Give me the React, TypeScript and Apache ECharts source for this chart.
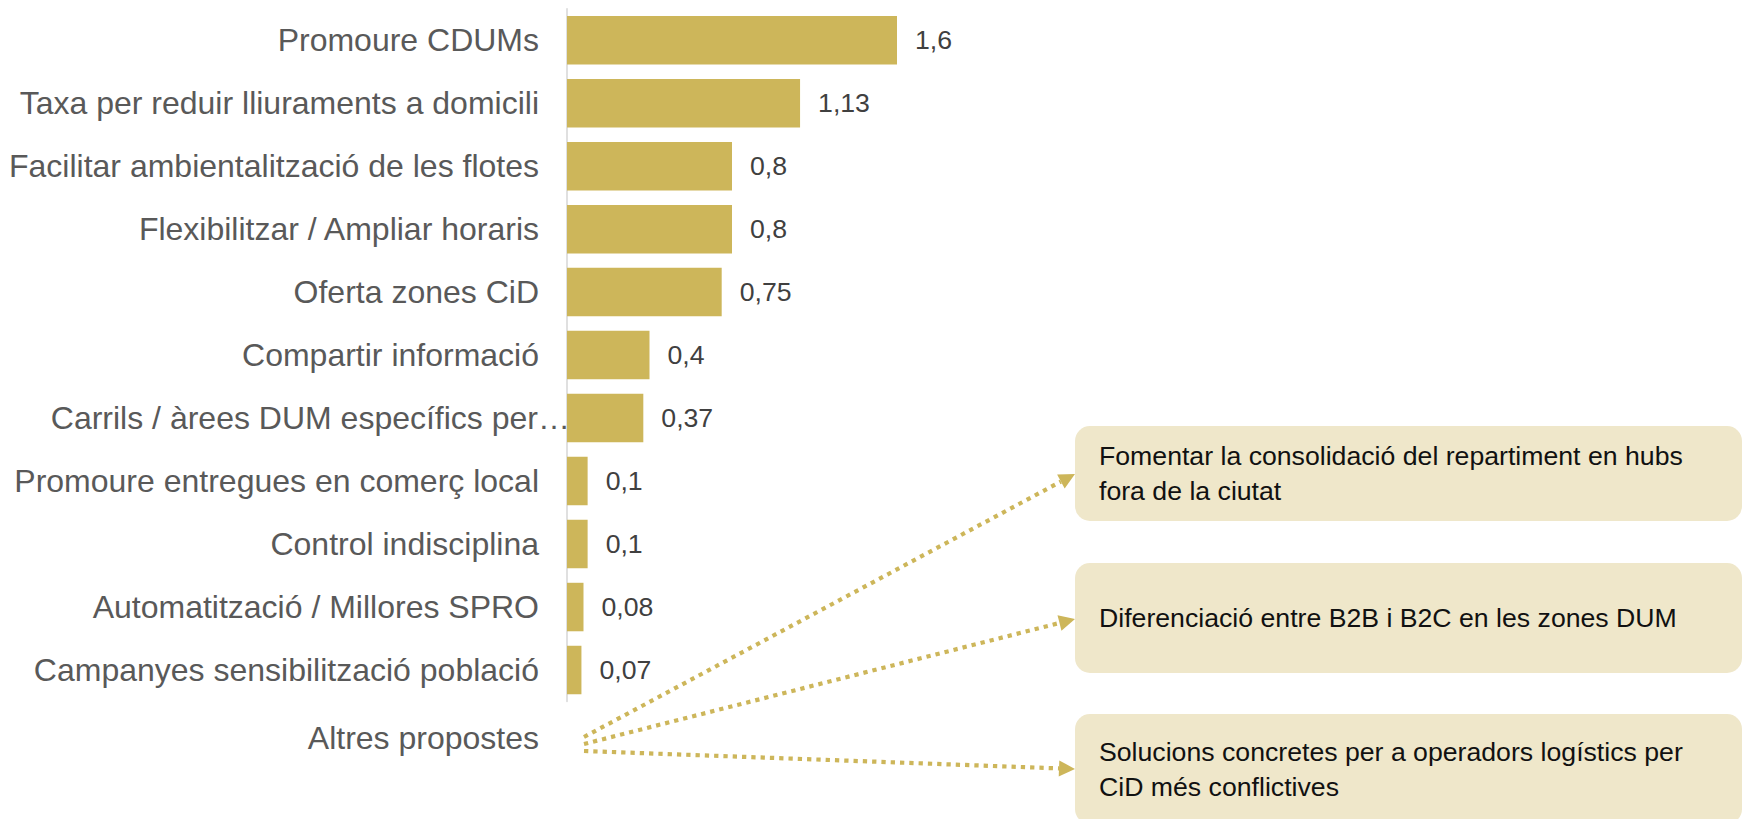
import React, { useEffect, useRef } from "react";
import * as echarts from "echarts";

const categories = [
  "Promoure CDUMs",
  "Taxa per reduir lliuraments a domicili",
  "Facilitar ambientalització de les flotes",
  "Flexibilitzar / Ampliar horaris",
  "Oferta zones CiD",
  "Compartir informació",
  "Carrils / àrees DUM específics per…",
  "Promoure entregues en comerç local",
  "Control indisciplina",
  "Automatització / Millores SPRO",
  "Campanyes sensibilització població",
];
const values = [1.6, 1.13, 0.8, 0.8, 0.75, 0.4, 0.37, 0.1, 0.1, 0.08, 0.07];
const overflowingLabel = 6;

const otherLabel = "Altres propostes";
const otherProposals = [
  "Fomentar la consolidació del repartiment en hubs\nfora de la ciutat",
  "Diferenciació entre B2B i B2C en les zones DUM",
  "Solucions concretes per a operadors logístics per\nCiD més conflictives",
];

const FONT = '"Liberation Sans", Arial, sans-serif';
const GOLD = "#CDB65A";

export default function App() {
  const ref = useRef<HTMLDivElement>(null);
  useEffect(() => {
    if (!ref.current) return;
    const chart = echarts.init(ref.current, null, { renderer: "svg" });

    // annotation layout
    const boxes = [
      { y: 426, h: 95, tipY: 474, startY: 737 },
      { y: 563, h: 110, tipY: 619, startY: 744 },
      { y: 714, h: 110, tipY: 769, startY: 751 },
    ];
    const boxX = 1075;
    const boxW = 667;
    const startX = 584;
    const graphics: any[] = [];
    boxes.forEach((b, i) => {
      graphics.push({
        type: "rect",
        shape: { x: boxX, y: b.y, width: boxW, height: b.h, r: 15 },
        style: { fill: "#EFE7CA" },
        z: 10,
      });
      graphics.push({
        type: "text",
        x: 1099,
        y: b.y + b.h / 2,
        style: {
          text: otherProposals[i],
          font: `26.67px ${FONT}`,
          fill: "#111111",
          textAlign: "left",
          textVerticalAlign: "middle",
          lineHeight: 35,
        },
        z: 11,
      });
      const tx = boxX;
      const ty = b.tipY;
      const dx = tx - startX;
      const dy = ty - b.startY;
      const len = Math.sqrt(dx * dx + dy * dy);
      const ux = dx / len;
      const uy = dy / len;
      const L = 16;
      const W = 8;
      const bx = tx - ux * L;
      const by = ty - uy * L;
      graphics.push({
        type: "line",
        shape: { x1: startX, y1: b.startY, x2: bx, y2: by },
        style: { stroke: GOLD, lineWidth: 4.2, lineDash: [4.3, 5] },
        z: 10,
      });
      graphics.push({
        type: "polygon",
        shape: {
          points: [
            [tx, ty],
            [bx - uy * W, by + ux * W],
            [bx + uy * W, by - ux * W],
          ],
        },
        style: { fill: GOLD },
        z: 10,
      });
    });
    graphics.push({
      type: "text",
      x: 539,
      y: 738,
      style: {
        text: otherLabel,
        font: `32px ${FONT}`,
        fill: "#595959",
        textAlign: "right",
        textVerticalAlign: "middle",
      },
    });

    const yData = categories.map((c, i) =>
      i === overflowingLabel
        ? { value: c, textStyle: { padding: [0, -31, 0, 0] } }
        : c
    );

    chart.setOption({
      animation: false,
      backgroundColor: "#ffffff",
      grid: {
        left: 567,
        top: 8.7,
        bottom: 117.5,
        right: 353,
        containLabel: false,
        outerBoundsMode: "none",
      },
      xAxis: {
        type: "value",
        min: 0,
        max: 4,
        show: false,
      },
      yAxis: {
        type: "category",
        inverse: true,
        data: yData,
        axisLine: { show: true, lineStyle: { color: "#D6D6D6", width: 1.5 } },
        axisTick: { show: false },
        axisLabel: {
          fontFamily: FONT,
          fontSize: 32,
          color: "#595959",
          margin: 28,
        },
      },
      series: [
        {
          type: "bar",
          data: values,
          barCategoryGap: "23%",
          itemStyle: { color: GOLD },
          label: {
            show: true,
            position: "right",
            distance: 18,
            fontFamily: FONT,
            fontSize: 26.67,
            color: "#404040",
            formatter: (p: any) => String(p.value).replace(".", ","),
          },
        },
      ],
      graphic: graphics,
    });
    return () => chart.dispose();
  }, []);
  return (
    <div
      ref={ref}
      style={{ position: "fixed", left: 0, top: 0, width: 1745, height: 819 }}
    />
  );
}
